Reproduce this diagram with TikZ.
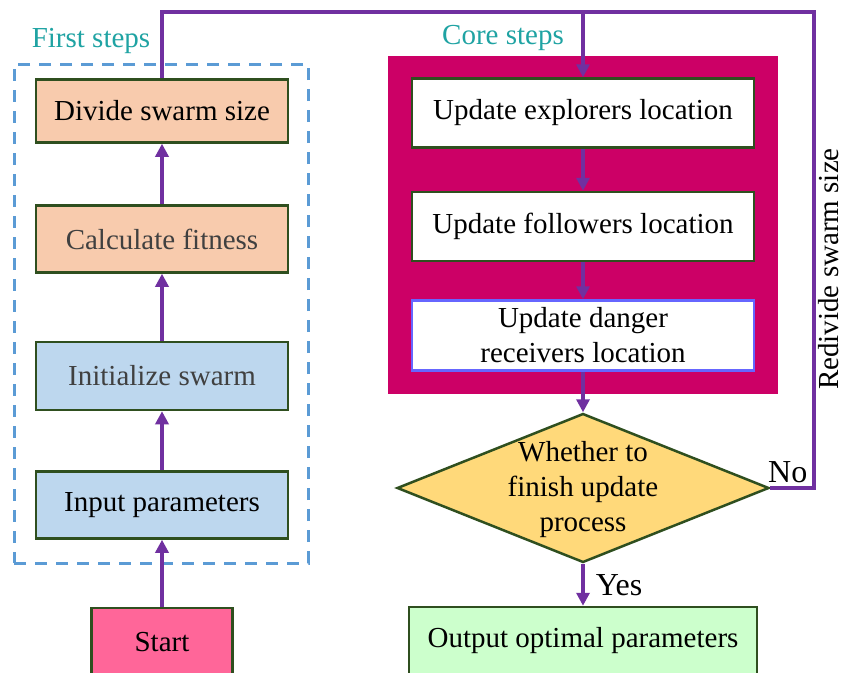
\documentclass[tikz,border=0pt]{standalone}
\usepackage{fontspec}
\setmainfont{Liberation Serif}
\usetikzlibrary{arrows.meta, shapes.geometric, positioning}

\definecolor{flowpurple}{HTML}{7030A0}
\definecolor{boxline}{HTML}{2F4F1F}
\definecolor{peach}{HTML}{F8CBAD}
\definecolor{paleblue}{HTML}{BDD7EE}
\definecolor{startpink}{HTML}{FF6699}
\definecolor{corered}{HTML}{CC0066}
\definecolor{dashblue}{HTML}{5B9BD5}
\definecolor{tealtext}{HTML}{1FA3A3}
\definecolor{decideyellow}{HTML}{FFD97A}
\definecolor{outgreen}{HTML}{CCFFCC}
\definecolor{dangerline}{HTML}{6666FF}

\begin{document}
\begin{tikzpicture}[
    x=1pt, y=-1pt,
    font=\fontsize{29}{35}\selectfont,
    box/.style={rectangle, draw=boxline, line width=2.5pt, align=center, minimum height=67pt},
    leftbox/.style={box, minimum width=252pt},
    peachbox/.style={leftbox, fill=peach},
    bluebox/.style={leftbox, fill=paleblue},
    corebox/.style={box, fill=white, minimum width=342pt, minimum height=69pt},
    diam/.style={diamond, draw=boxline, line width=2.5pt, fill=decideyellow, inner sep=0pt, minimum width=372pt, minimum height=149pt},
    frametitle/.style={text=tealtext},
    arr/.style={-{Triangle[length=13pt, width=13pt]}, line width=3.5pt, draw=flowpurple},
    line/.style={line width=3.5pt, draw=flowpurple},
    lbl/.style={inner sep=3pt, font=\fontsize{32}{38}\selectfont},
]
\clip (0,0) rectangle (856,672);
\fill[white] (0,0) rectangle (856,672);

% Frames
\node[draw=dashblue, line width=3pt, dash pattern=on 12pt off 9pt, minimum width=294pt, minimum height=499pt] (first) at (161,313.5) {};
\node[frametitle] (firstlbl) at (91,41) {First steps};
\node[fill=corered, minimum width=390pt, minimum height=338pt] (core) at (583,225) {};
\node[frametitle] (corelbl) at (503,38) {Core steps};

% First steps (bottom to top)
\node[peachbox, minimum height=63pt] (divide) at (162,111) {Divide swarm size};
\node[peachbox, text=black!75] (fitness) at (162,239) {Calculate fitness};
\node[bluebox, minimum height=68pt, text=black!75] (init) at (162,376) {Initialize swarm};
\node[bluebox] (input) at (162,505) {Input parameters};
\node[box, fill=startpink, minimum width=141pt, minimum height=68pt] (start) at (162,642) {Start};

% Core steps
\node[corebox] (explore) at (583,113) {Update explorers location};
\node[corebox, below=42pt of explore] (follow) {Update followers location};
\node[corebox, draw=dangerline, minimum height=70pt, below=37pt of follow] (danger) {Update danger\\receivers location};

\node[diam] (decide) at (583,488) {\raisebox{-16pt}{\smash{\makebox[0pt]{\begin{tabular}{@{}c@{}}Whether to\\finish update\\process\end{tabular}}}}};
\node[box, fill=outgreen, minimum width=348pt, minimum height=68pt] (output) at (583,641) {Output optimal parameters};

\coordinate (top) at (583,12);
\coordinate (redo) at (814,12);

% Arrows
\draw[arr] (start) -- (input);
\draw[arr] (input) -- (init);
\draw[arr] (init) -- (fitness);
\draw[arr] (fitness) -- (divide);
\draw[arr] (divide.north) |- (top) -- (explore.north);
\draw[arr] (explore) -- (follow);
\draw[arr] (follow) -- (danger);
\draw[arr] (danger.south) -- (decide.north);

% Yes branch
\draw[arr] (decide.south) -- node[lbl, right=8pt] {Yes} (output.north);

% No branch
\draw[line] (decide.east) -| node[lbl, pos=0.2, above] {No} node[inner sep=3pt, pos=0.73, rotate=90, anchor=north] {Redivide swarm size} (redo) -- (top);

\end{tikzpicture}
\end{document}
